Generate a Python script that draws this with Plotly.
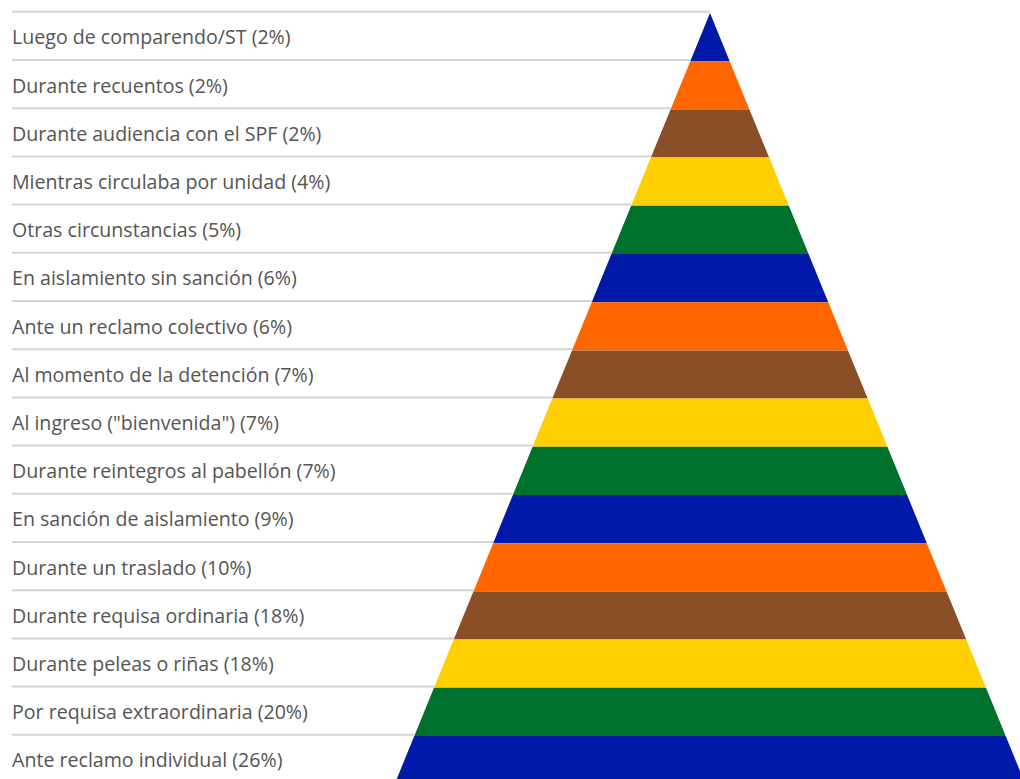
import plotly.graph_objects as go

categories = [
    "Luego de comparendo/ST",
    "Durante recuentos",
    "Durante audiencia con el SPF",
    "Mientras circulaba por unidad",
    "Otras circunstancias",
    "En aislamiento sin sanción",
    "Ante un reclamo colectivo",
    "Al momento de la detención",
    'Al ingreso ("bienvenida")',
    "Durante reintegros al pabellón",
    "En sanción de aislamiento",
    "Durante un traslado",
    "Durante requisa ordinaria",
    "Durante peleas o riñas",
    "Por requisa extraordinaria",
    "Ante reclamo individual",
]
values = [2, 2, 2, 4, 5, 6, 6, 7, 7, 7, 9, 10, 18, 18, 20, 26]
palette = ["#0019A8", "#FF6600", "#8A4F26", "#FFCF00", "#00712D"]

W, H = 1020, 779
apex_px_x, apex_px_y = 710, 13
band_px = 48.2
slope = 0.409  # half-width px per px of depth
unit_x = slope * band_px

xr = [(0 - apex_px_x) / unit_x, (W - apex_px_x) / unit_x]
yr = [(H - apex_px_y) / band_px, (0 - apex_px_y) / band_px]
label_x = (12 - apex_px_x) / unit_x

fig = go.Figure()
n = len(categories)
for i, (cat, val) in enumerate(zip(categories, values)):
    fig.add_trace(go.Scatter(
        x=[label_x, -i], y=[i - 0.025, i - 0.025], mode="lines",
        line=dict(color="#d4d4d4", width=2), hoverinfo="skip", showlegend=False))
for i, (cat, val) in enumerate(zip(categories, values)):
    fig.add_trace(go.Scatter(
        x=[-i, i, i + 1, -(i + 1), -i], y=[i, i, i + 1, i + 1, i],
        fill="toself", fillcolor=palette[i % len(palette)],
        line=dict(width=0, color=palette[i % len(palette)]), mode="lines",
        name=cat, text=f"{cat}: {val}%", hoverinfo="text", showlegend=False))

fig.add_trace(go.Scatter(
    x=[label_x] * n, y=[i + 0.55 for i in range(n)], mode="text",
    text=[f"{c} ({v}%)" for c, v in zip(categories, values)],
    textposition="middle right",
    textfont=dict(family="Open Sans", size=19.6, color="#555555"),
    hoverinfo="skip", showlegend=False, cliponaxis=False))

fig.update_xaxes(range=xr, visible=False, fixedrange=True)
fig.update_yaxes(range=yr, visible=False, fixedrange=True)
fig.update_layout(
    width=W, height=H, margin=dict(l=0, r=0, t=0, b=0),
    plot_bgcolor="white", paper_bgcolor="white")
fig.write_html(
    "out.html",
    config={"displayModeBar": False},
    post_script="document.body.style.margin='0';document.body.style.overflow='hidden';",
)
